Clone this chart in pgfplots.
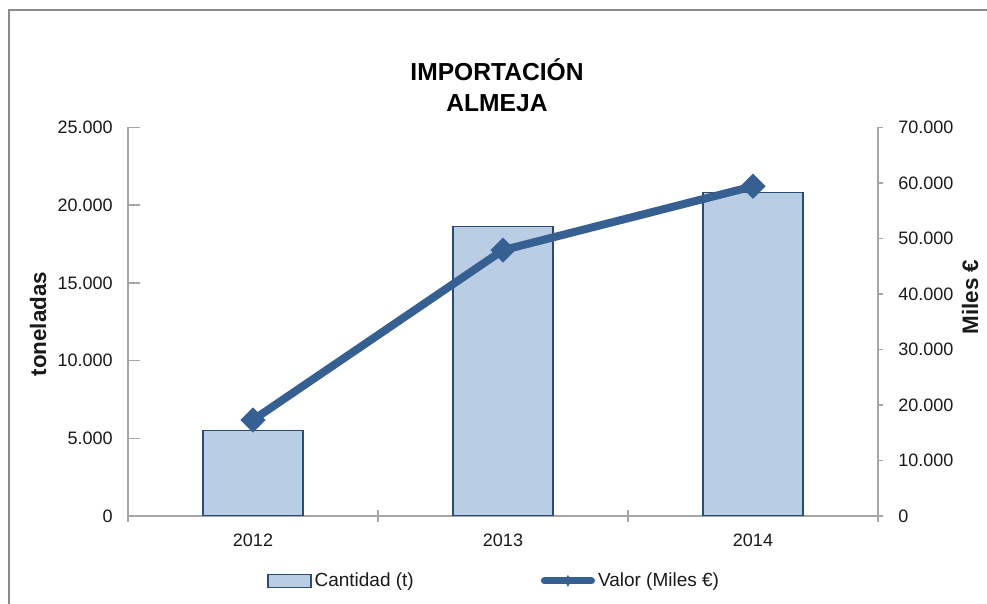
\documentclass[border=0pt]{standalone}
\usepackage{fontspec}
\setmainfont{Liberation Sans}
\usepackage{pgfplots}
\pgfplotsset{compat=1.18}
\definecolor{barfill}{HTML}{B9CDE5}
\definecolor{baredge}{HTML}{2C4A73}
\definecolor{valcol}{HTML}{376092}
\definecolor{axgray}{HTML}{A6A6A6}
\definecolor{framegray}{HTML}{8C8C8C}
\definecolor{txt}{HTML}{1A1A1A}
\pgfplotsset{
  common/.style={
    scale only axis, width=375pt, height=194.25pt,
    at={(64pt,44pt)}, anchor=south west,
    xmin=-0.5, xmax=2.5,
    font=\fontsize{9}{11}\selectfont,
    /pgf/number format/assume math mode=true,
    /pgf/number format/fixed,
    /pgf/number format/1000 sep={.},
    scaled y ticks=false,
    axis line style={draw=axgray, line width=0.7pt},
    tick style={draw=axgray, line width=0.7pt},
    tick label style={color=txt},
    label style={color=txt, font=\fontsize{11.2}{13}\selectfont\bfseries},
  },
  barlegend/.style={legend image code/.code={\draw[fill=barfill, draw=baredge, line width=0.6pt] (0pt,-3.3pt) rectangle (21.5pt,3.3pt);}},
  linelegend/.style={legend image code/.code={
    \draw[valcol, line width=3.6pt, line cap=round] (0pt,0pt) -- (23.5pt,0pt);
    \path[fill=valcol, draw=none] (11.75pt,0pt) +(0,3pt) -- +(1.6pt,0) -- +(0,-3pt) -- +(-1.6pt,0) -- cycle;}},
}
\pgfplotstableread{
x cantidad valor
0 5500 17300
1 18650 47900
2 20800 59400
}\datatable
\begin{document}
\begin{tikzpicture}
\useasboundingbox (0,0) rectangle (493.5pt,302pt);
\draw[framegray, line width=1pt] (4.5pt,-2pt) -- (4.5pt,297pt) -- (496pt,297pt);
\begin{axis}[common,
  axis x line*=bottom, axis y line*=left,
  ymin=0, ymax=25000, ytick={0,5000,...,25000},
  xtick={-0.5,0.5,1.5,2.5}, x tick label as interval,
  xticklabels={2012,2013,2014},
  xticklabel style={anchor=center, yshift=-12pt, inner sep=0pt},
  yticklabel style={anchor=east, xshift=-7.5pt, inner sep=0pt},
  xtick style={yshift=-3pt},
  major tick length=6pt, tick align=inside,
  ylabel={toneladas},
  ylabel style={at={(axis description cs:-0.12,0.494)}, anchor=center},
  title={IMPORTACIÓN\\ALMEJA},
  title style={at={(axis description cs:0.492,1.077)}, anchor=center, align=center,
    font=\fontsize{12.3}{15.5}\selectfont\bfseries, color=black},
]
\addplot[ybar, bar width=0.4, fill=barfill, draw=baredge, line width=0.6pt]
  table[x=x, y=cantidad] {\datatable};
\end{axis}
\begin{axis}[common,
  axis x line=none, axis y line*=right,
  ymin=0, ymax=70000, ytick={0,10000,...,70000},
  xtick=\empty,
  tick align=outside, major tick length=2.5pt,
  yticklabel style={anchor=west, xshift=7.5pt, inner sep=0pt},
  ylabel={Miles €},
  ylabel style={at={(axis description cs:1.1227,0.564)}, anchor=center},
  legend columns=2,
  legend style={at={(axis description cs:0.1853,-0.167)}, anchor=west,
    draw=none, fill=none, inner sep=0pt,
    font=\fontsize{9.5}{11}\selectfont, text=txt,
    nodes={inner sep=1.5pt},
    /tikz/every even column/.append style={column sep=62pt}},
]
\addlegendimage{barlegend}
\addlegendentry{Cantidad (t)}
\addplot[color=valcol, line width=4pt, mark=square*,
  mark options={rotate=45, line width=0.5pt, fill=valcol},
  mark size=4.2pt, linelegend]
  table[x=x, y=valor] {\datatable};
\addlegendentry{Valor (Miles €)}
\end{axis}
\end{tikzpicture}
\end{document}
